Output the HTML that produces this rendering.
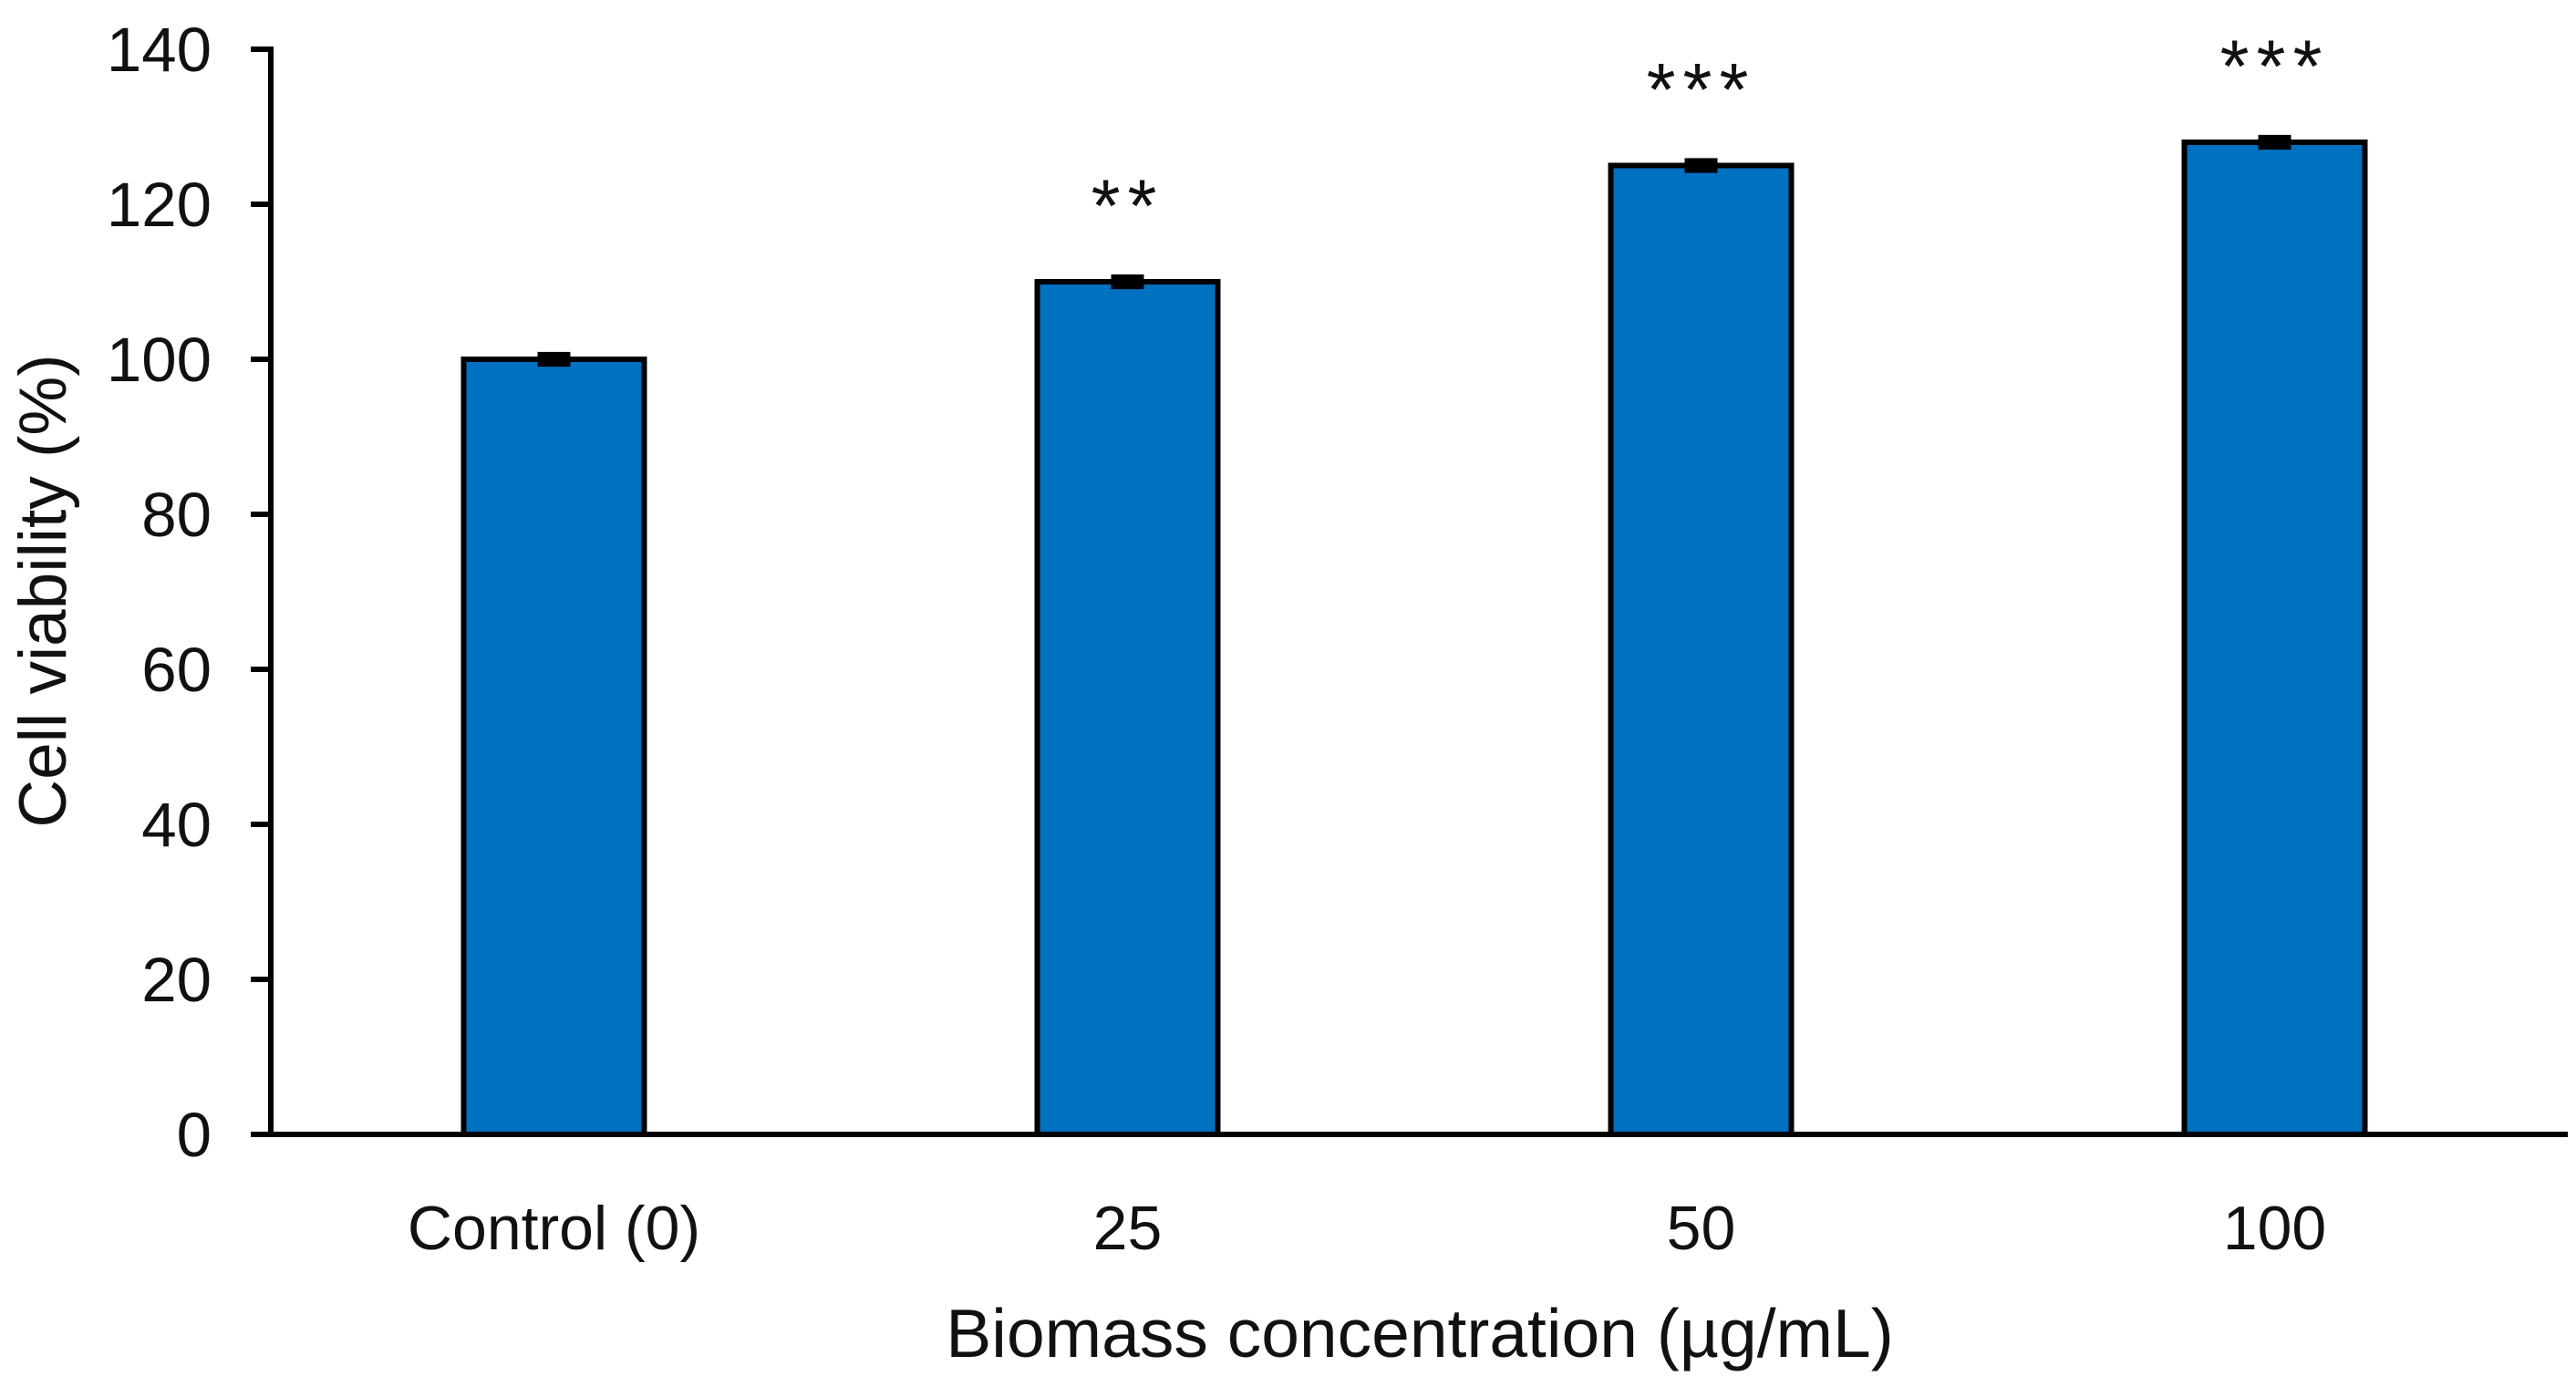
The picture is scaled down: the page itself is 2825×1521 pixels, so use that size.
<!DOCTYPE html>
<html><head><meta charset="utf-8"><style>
html,body{margin:0;padding:0;background:#fff;}
svg{display:block;font-family:"Liberation Sans",Arial,sans-serif;}
</style></head><body>
<svg id="chart" width="2825" height="1521" viewBox="0 0 2825 1521" xmlns="http://www.w3.org/2000/svg">
<rect width="2825" height="1521" fill="#fff"/>
<g id="bars"></g>
<g id="axes"></g>
<text x="1557" y="1488" font-size="75" text-anchor="middle" fill="#111">Biomass concentration (µg/mL)</text>
<text transform="translate(72,648) rotate(-90)" font-size="73" text-anchor="middle" fill="#111">Cell viability (%)</text>
</svg>
<script>
const categories = ["Control (0)", "25", "50", "100"];
const values = [100, 110, 125, 128];
const errors = [0.6, 0.6, 0.6, 0.6];
const stars = ["", "**", "***", "***"];
const yTicks = [0, 20, 40, 60, 80, 100, 120, 140];

const NS = "http://www.w3.org/2000/svg";
const X0 = 297, X1 = 2816, Y0 = 1244, Y1 = 54, YMAX = 140;
const catW = 629;
const barW = 198;
function y(v){ return Y0 - (v / YMAX) * (Y0 - Y1); }
function xc(i){ return X0 - 4 + catW * (i + 0.5); }
function mk(tag, attrs, parent){
  const e = document.createElementNS(NS, tag);
  for (const k in attrs) e.setAttribute(k, attrs[k]);
  parent.appendChild(e);
  return e;
}
const bars = document.getElementById("bars");
const axes = document.getElementById("axes");

values.forEach((v, i) => {
  const r = mk("rect", {x: xc(i) - barW/2, y: y(v), width: barW, height: Y0 - y(v), fill: "#0070c0", stroke: "#000", "stroke-width": 6}, bars);
  
  
  const eb = mk("rect", {x: xc(i) - 18, y: y(v + errors[i]) - 3, width: 36, height: Math.max(8, y(v - errors[i]) - y(v + errors[i]) + 6), fill: "#000"}, bars);
  
  
  if (stars[i]) {
    const s = mk("text", {x: xc(i), y: y(v + errors[i]) - 50, "font-size": 82, "text-anchor": "middle", fill: "#111", "letter-spacing": "8"}, bars);
    s.textContent = stars[i];
    
    
  }
  const t = mk("text", {x: xc(i), y: 1370, "font-size": 68, "text-anchor": "middle", fill: "#111"}, axes);
  t.textContent = categories[i];
  
  
});

const ya = mk("line", {x1: X0, y1: Y1 - 3, x2: X0, y2: Y0, stroke: "#000", "stroke-width": 6}, axes);


const xa = mk("line", {x1: 275, y1: Y0, x2: X1, y2: Y0, stroke: "#000", "stroke-width": 6}, axes);



yTicks.forEach(t => {
  const tk = mk("line", {x1: 275, y1: y(t), x2: X0, y2: y(t), stroke: "#000", "stroke-width": 6}, axes);
  
  
  const lb = mk("text", {x: 232, y: y(t) + 24, "font-size": 69, "text-anchor": "end", fill: "#111"}, axes);
  lb.textContent = t;
  
  
});
</script>
</body></html>
